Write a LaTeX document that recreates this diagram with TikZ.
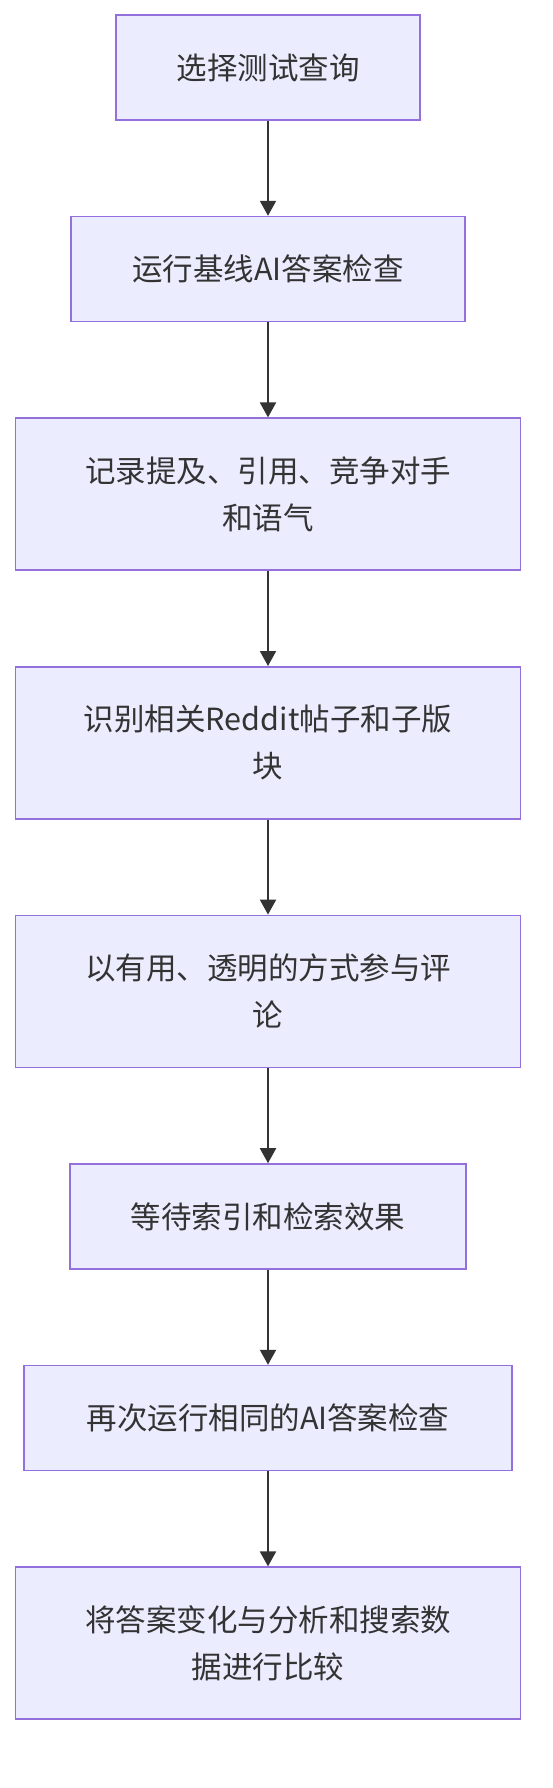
\documentclass[tikz,border=0pt]{standalone}
\usepackage{fontspec}
\usepackage{xcolor}
\usepackage{tikz}
\usetikzlibrary{arrows.meta,positioning}
\newfontfamily\cjk{Noto Sans CJK SC}
\definecolor{BoxFill}{HTML}{ECECFF}
\definecolor{BoxLine}{HTML}{9370DB}
\definecolor{Ink}{HTML}{333333}

\begin{document}
\begin{tikzpicture}[
  box/.style={draw=BoxLine,line width=1.6pt,fill=BoxFill,minimum height=105pt,align=center,text=Ink,font=\cjk\fontsize{30.5}{47}\selectfont},
  tall/.style={box,minimum height=152pt},
  arr/.style={-{Triangle[length=15pt,width=16pt]},line width=2pt,color=Ink}
]
\useasboundingbox (0,0) rectangle (552pt,-1788pt);
\node[box,minimum width=304pt] (select) at (268pt,-67.5pt) {选择测试查询};
\node[box,below=95pt of select,minimum width=394pt] (baseline) {运行基线AI答案检查};
\node[tall,below=95pt of baseline,minimum width=505pt] (record) {记录提及、引用、竞争对手\\和语气};
\node[tall,below=95pt of record,minimum width=505pt] (reddit) {识别相关Reddit帖子和子版\\块};
\node[tall,below=95pt of reddit,minimum width=505pt] (engage) {以有用、透明的方式参与评\\论};
\node[box,below=95pt of engage,minimum width=396pt] (wait) {等待索引和检索效果};
\node[box,below=95pt of wait,minimum width=488pt] (rerun) {再次运行相同的AI答案检查};
\node[tall,below=95pt of rerun,minimum width=505pt] (compare) {将答案变化与分析和搜索数\\据进行比较};
\draw[arr] (select) -- (baseline);
\draw[arr] (baseline) -- (record);
\draw[arr] (record) -- (reddit);
\draw[arr] (reddit) -- (engage);
\draw[arr] (engage) -- (wait);
\draw[arr] (wait) -- (rerun);
\draw[arr] (rerun) -- (compare);
\end{tikzpicture}
\end{document}
